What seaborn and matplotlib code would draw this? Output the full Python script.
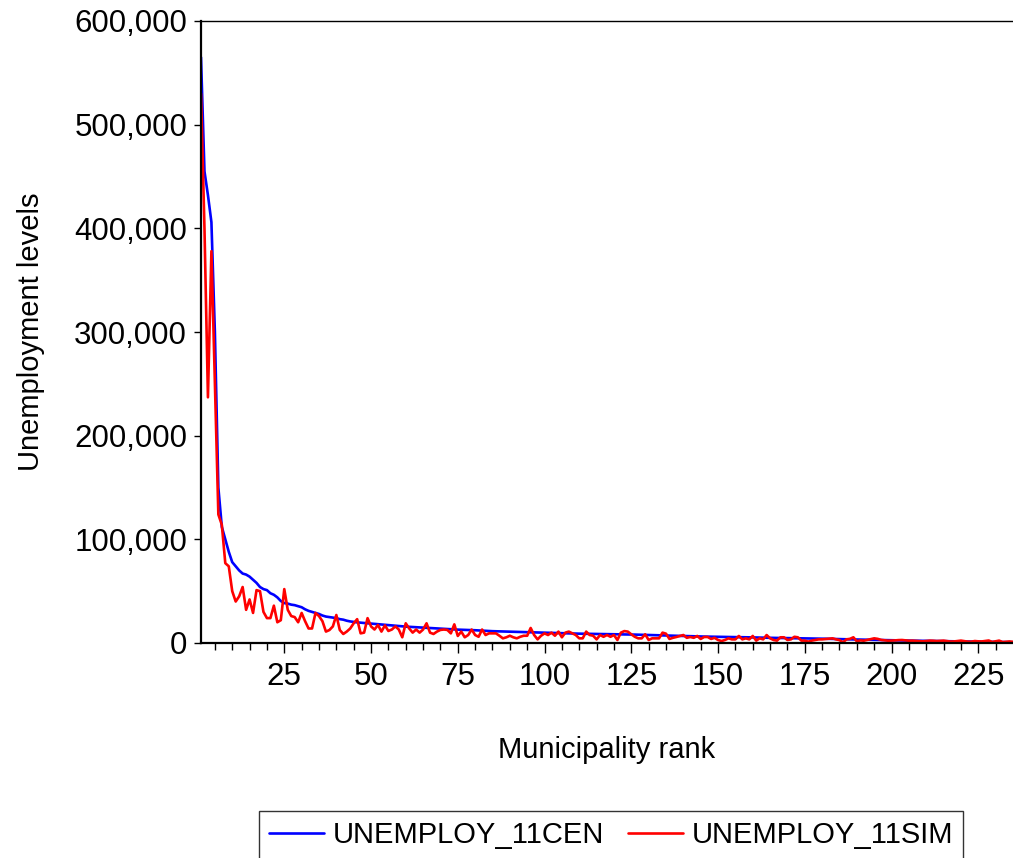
import matplotlib
matplotlib.use("Agg")
import matplotlib.pyplot as plt
import matplotlib.ticker as mticker
import numpy as np
import pandas as pd
import seaborn as sns

# ---------------- data ----------------
cen_values = [
    565000, 455000, 432000, 406000, 300000, 150000, 112000, 100000, 88000, 78000,
    74000, 70000, 67000, 66000, 64000, 61000, 58000, 54000, 52000, 51000,
    48000, 46500, 44000, 40500, 38500, 38000, 37000, 36500, 35500, 34500,
    32500, 31000, 30000, 29000, 28000, 26500, 25500, 25000, 24500, 24000,
    23000, 22500, 21500, 20800, 20300, 19900, 19600, 19300, 19000, 18700,
    18400, 18000, 17700, 17400, 17100, 16800, 16500, 16200, 16000, 15800,
    15600, 15400, 15200, 15000, 14800, 14600, 14400, 14200, 14000, 13800,
    13600, 13400, 13200, 13000, 12900, 12800, 12700, 12600, 12500, 12300,
    12100, 11900, 11700, 11500, 11400, 11300, 11200, 11100, 11000, 10900,
    10800, 10700, 10600, 10500, 10400, 10300, 10250, 10200, 10100, 10000,
    9900, 9800, 9700, 9600, 9500, 9400, 9300, 9200, 9100, 9000,
    8950, 8900, 8800, 8700, 8650, 8600, 8550, 8500, 8450, 8400,
    8350, 8300, 8250, 8200, 8150, 8100, 8000, 7900, 7800, 7700,
    7600, 7500, 7400, 7300, 7200, 7100, 7000, 6900, 6800, 6700,
    6600, 6500, 6400, 6350, 6300, 6200, 6150, 6100, 6050, 6000,
    5950, 5900, 5850, 5800, 5750, 5700, 5650, 5600, 5500, 5400,
    5300, 5200, 5100, 5050, 5000, 4950, 4900, 4850, 4800, 4750,
    4700, 4650, 4600, 4550, 4500, 4450, 4400, 4350, 4300, 4200,
    4100, 4000, 3900, 3850, 3800, 3700, 3600, 3550, 3500, 3400,
    3300, 3200, 3150, 3100, 3000, 2950, 2900, 2800, 2700, 2650,
    2600, 2500, 2450, 2400, 2300, 2250, 2200, 2100, 2050, 2000,
    1950, 1900, 1850, 1800, 1750, 1700, 1650, 1600, 1550, 1500,
    1450, 1400, 1350, 1300, 1250, 1200, 1150, 1100, 1050, 1000,
    950, 900, 850, 800, 750,
]

sim_values = [
    530000, 400000, 237000, 378000, 250000, 124000, 114000, 77000, 74000, 50000,
    40000, 45000, 54000, 32000, 42000, 29000, 51000, 50000, 30000, 24000,
    24000, 36000, 20000, 22000, 52000, 32000, 26000, 25000, 20000, 29000,
    21000, 14000, 14000, 29000, 26000, 21000, 11000, 12500, 16000, 27000,
    12500, 8700, 11000, 14000, 19000, 23000, 9300, 10000, 24000, 16000,
    13000, 17400, 11000, 17000, 11600, 13000, 16000, 13000, 5500, 19000,
    14000, 10000, 13000, 10000, 13000, 19000, 10000, 8700, 11000, 12600,
    13000, 12600, 9300, 18000, 6800, 11000, 5500, 7700, 13000, 7700,
    6000, 13000, 7700, 9300, 9300, 9300, 7000, 4500, 5500, 7000,
    5500, 4500, 6000, 7000, 7000, 14500, 7700, 3500, 7000, 9300,
    7700, 10000, 7000, 11000, 5500, 10000, 11000, 9300, 7700, 4500,
    4500, 11000, 7700, 7000, 3500, 7700, 6000, 7700, 6000, 7700,
    2900, 10000, 11500, 11000, 8400, 6000, 4500, 4500, 8400, 2900,
    4500, 4500, 4500, 10000, 9000, 3900, 5000, 5800, 6800, 7700,
    5000, 5800, 5000, 6800, 3900, 5800, 5800, 3900, 5000, 2900,
    1900, 2900, 4500, 3500, 3500, 6800, 3500, 4500, 3500, 6800,
    2300, 4500, 3500, 7700, 4500, 2900, 2300, 5500, 5500, 2900,
    3500, 6000, 5500, 2300, 2300, 1300, 2300, 2900, 3500, 3500,
    3800, 4200, 4500, 3500, 2800, 600, 3500, 4000, 5500, 1600,
    2500, 2200, 3000, 3800, 4500, 4000, 3000, 2600, 2200, 2300,
    2500, 2800, 2900, 2500, 2200, 2300, 2100, 1900, 1600, 2000,
    2300, 2200, 1900, 2100, 2300, 1800, 1400, 1500, 1900, 2300,
    1800, 1300, 1300, 1900, 1600, 1500, 2000, 2400, 1000, 1700,
    2300, 900, 1200, 1500, 1100,
]

series_names = ["UNEMPLOY_11CEN", "UNEMPLOY_11SIM"]
series_colors = ["#0000FF", "#FF0000"]
x_major_ticks = [25, 50, 75, 100, 125, 150, 175, 200, 225]
y_ticks = [0, 100000, 200000, 300000, 400000, 500000, 600000]
x_label = "Municipality rank"
y_label = "Unemployment levels"

rank = list(range(1, len(cen_values) + 1))
df = pd.DataFrame({
    "rank": rank + rank,
    "value": cen_values + sim_values,
    "series": [series_names[0]] * len(cen_values) + [series_names[1]] * len(sim_values),
})

# ---------------- style ----------------
sns.set_style("ticks")
plt.rcParams["font.family"] = ["Liberation Sans", "DejaVu Sans"]
plt.rcParams["text.color"] = "black"
FS = 21
TFS = 22.5
LW = 1.9

fig = plt.figure(figsize=(10.13, 8.58), dpi=100)
ax = fig.add_axes([201 / 1013, 1 - 643 / 858, 1 - 201 / 1013, (643 - 21) / 858])

sns.lineplot(data=df, x="rank", y="value", hue="series", hue_order=series_names,
             palette=dict(zip(series_names, series_colors)), linewidth=LW,
             ax=ax, legend=False, estimator=None, sort=False)

ax.set_xlim(1, len(cen_values))
ax.set_ylim(0, 600000)
ax.set_xticks(x_major_ticks)
ax.xaxis.set_minor_locator(mticker.FixedLocator(
    [v for v in range(5, len(cen_values), 5) if v not in x_major_ticks]))
ax.set_yticks(y_ticks)
ax.yaxis.set_major_formatter(mticker.FuncFormatter(lambda v, p: f"{int(v):,}"))

ax.tick_params(axis="both", which="major", labelsize=TFS, direction="out",
               width=1.0, color="black", labelcolor="black")
ax.tick_params(axis="x", which="major", length=7, pad=7)
ax.tick_params(axis="x", which="minor", length=5, width=1.0, color="black")
ax.tick_params(axis="y", which="major", length=5, pad=5)

for side in ["left", "bottom"]:
    ax.spines[side].set_color("black")
    ax.spines[side].set_linewidth(1.6)
ax.spines["top"].set_visible(True)
ax.spines["top"].set_color("black")
ax.spines["top"].set_linewidth(1.0)
ax.spines["right"].set_visible(False)

ax.set_xlabel(x_label, fontsize=FS, labelpad=31, color="black")
ax.set_ylabel(y_label, fontsize=FS, labelpad=21, color="black")

handles = [plt.Line2D([], [], color=c, linewidth=LW) for c in series_colors]
leg = fig.legend(handles, series_names, loc="upper center", ncol=2,
                 bbox_to_anchor=(611 / 1013, 1 - 811 / 858), fontsize=FS,
                 frameon=True, fancybox=False, shadow=False,
                 handlelength=1.9, handletextpad=0.3, columnspacing=0.8,
                 borderpad=0.35, borderaxespad=0.0, labelcolor="black")
leg.get_frame().set_edgecolor("black")
leg.get_frame().set_linewidth(1.0)

fig.savefig("out.png", dpi=100)
